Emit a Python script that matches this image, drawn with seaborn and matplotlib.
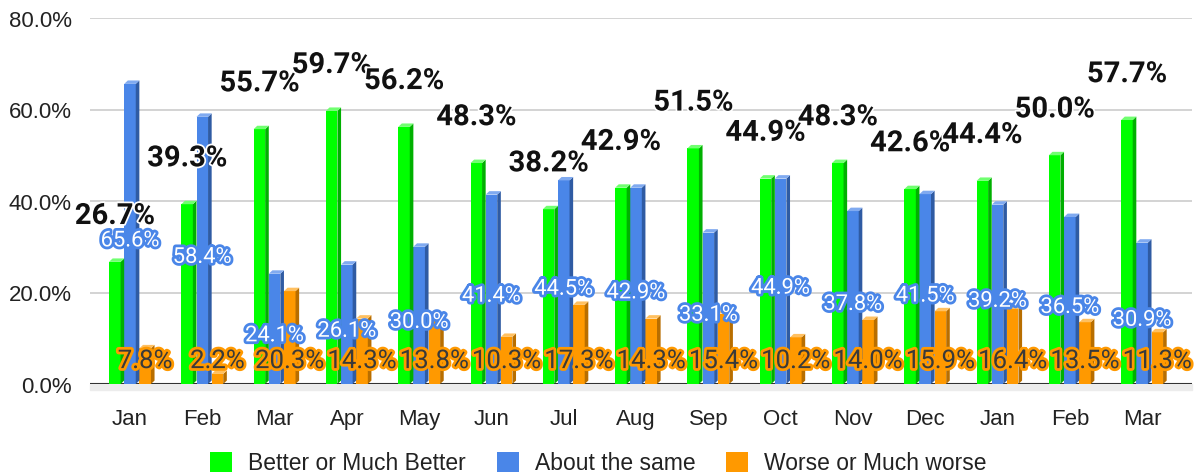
import numpy as np
import pandas as pd
import matplotlib
matplotlib.use("Agg")
import matplotlib.pyplot as plt
import seaborn as sns
from matplotlib.patches import Polygon, Patch, Rectangle
import matplotlib.patheffects as pe
from matplotlib.ticker import FuncFormatter
from matplotlib.colors import to_hex

months = ["Jan", "Feb", "Mar", "Apr", "May", "Jun", "Jul", "Aug", "Sep",
          "Oct", "Nov", "Dec", "Jan", "Feb", "Mar"]
series_names = ["Better or Much Better", "About the same", "Worse or Much worse"]
better = [26.7, 39.3, 55.7, 59.7, 56.2, 48.3, 38.2, 42.9, 51.5, 44.9, 48.3, 42.6, 44.4, 50.0, 57.7]
same = [65.6, 58.4, 24.1, 26.1, 30.0, 41.4, 44.5, 42.9, 33.1, 44.9, 37.8, 41.5, 39.2, 36.5, 30.9]
worse = [7.8, 2.2, 20.3, 14.3, 13.8, 10.3, 17.3, 14.3, 15.4, 10.2, 14.0, 15.9, 16.4, 13.5, 11.3]

front_cols = ["#00ff00", "#4a86e8", "#ff9900"]
side_cols = ["#00b000", "#2f5ba3", "#b86e00"]
top_cols = ["#70ff70", "#80aaf0", "#ffc060"]

sns.set_theme(style="white")
plt.rcParams["font.family"] = ["Roboto", "DejaVu Sans"]
arial = ["Liberation Sans", "DejaVu Sans"]

fig = plt.figure(figsize=(11.97, 4.77), dpi=100)
ax = fig.add_axes([90 / 1197, 92 / 477, 1102 / 1197, 366 / 477])

n = len(months)
df = pd.DataFrame({
    "idx": np.tile(np.arange(n), 3),
    "value": better + same + worse,
    "series": np.repeat(series_names, n),
})

sns.barplot(data=df, x="idx", y="value", hue="series", hue_order=series_names,
            palette=front_cols, width=0.63, gap=0.24, saturation=1, ax=ax,
            legend=False, errorbar=None, zorder=3, linewidth=0)

ax.set_xlim(-0.553, 14.69)
ax.set_ylim(0, 80)
ax.set_yticks([0, 20, 40, 60, 80])
ax.yaxis.set_major_formatter(FuncFormatter(lambda v, p: f"{v:.1f}%"))
ax.set_xticks(range(n))
ax.set_xticklabels(months)
ax.set_xlabel("")
ax.set_ylabel("")
for s in ax.spines.values():
    s.set_visible(False)
ax.grid(axis="y", color="#cccccc", linewidth=1.2, zorder=0)
ax.set_axisbelow(True)
ax.tick_params(axis="x", length=0, pad=17, labelsize=16, labelcolor="#222222")
ax.tick_params(axis="y", length=0, pad=13, labelsize=16, labelcolor="#222222")
for t in ax.get_xticklabels() + ax.get_yticklabels():
    t.set_family(arial)

ax.axhline(0, color="#333333", lw=1.5, zorder=2)
ax.add_patch(Rectangle((0, -0.016), 1, 0.016, transform=ax.transAxes,
                       color="#ececec", clip_on=False, zorder=1))

dx, dy = 0.05, 0.75
bars = [p for p in ax.patches if isinstance(p, matplotlib.patches.Rectangle)
        and p.get_height() > 0 and p.get_width() < 0.5]
front_hex = [c.lower() for c in front_cols]
groups = {0: [], 1: [], 2: []}
for p in bars:
    k = front_hex.index(to_hex(p.get_facecolor()).lower())
    groups[k].append(p)
    x0 = p.get_x(); w = p.get_width(); h = p.get_height(); x1 = x0 + w
    ax.add_patch(Polygon([(x1, 0), (x1 + dx, dy), (x1 + dx, h + dy), (x1, h)],
                         closed=True, facecolor=side_cols[k], edgecolor="none", zorder=3))
    ax.add_patch(Polygon([(x0, h), (x0 + dx, h + dy), (x1 + dx, h + dy), (x1, h)],
                         closed=True, facecolor=top_cols[k], edgecolor="none", zorder=3))

for k in groups:
    groups[k].sort(key=lambda p: p.get_x())

# Better labels: bold black above bars
for p, v in zip(groups[0], better):
    ax.annotate(f"{v:.1f}%", (p.get_x() + p.get_width() / 2, v), xytext=(0, 33),
                textcoords="offset points", ha="center", va="center",
                fontsize=21, fontweight="bold", color="#111111", zorder=7,
                path_effects=[pe.withStroke(linewidth=2.5, foreground="white")])
# Same labels: white with blue halo, middle of bar
for p, v in zip(groups[1], same):
    ax.annotate(f"{v:.1f}%", (p.get_x() + p.get_width() / 2, v / 2), xytext=(0, -5),
                textcoords="offset points", ha="center", va="center",
                fontsize=15.8, color="white", zorder=6,
                path_effects=[pe.withStroke(linewidth=4, foreground="#4a86e8")])
# Worse labels: dark text with orange halo, at base
for p, v in zip(groups[2], worse):
    ax.annotate(f"{v:.1f}%", (p.get_x() + p.get_width() / 2, 0), xytext=(0, 16.5),
                textcoords="offset points", ha="center", va="center",
                fontsize=18.6, color="#3a3a3a", zorder=8,
                path_effects=[pe.withStroke(linewidth=4, foreground="#ff9900")])

handles = [Patch(facecolor=c, edgecolor="none") for c in front_cols]
fig.legend(handles, series_names, loc="center", bbox_to_anchor=(0.5, 13 / 477),
           ncol=3, frameon=False, handlelength=0.95, handleheight=0.95,
           columnspacing=1.35, handletextpad=0.7,
           prop={"family": arial, "size": 16.5},
           labelcolor="#222222")

fig.savefig("out.png", dpi=100)
